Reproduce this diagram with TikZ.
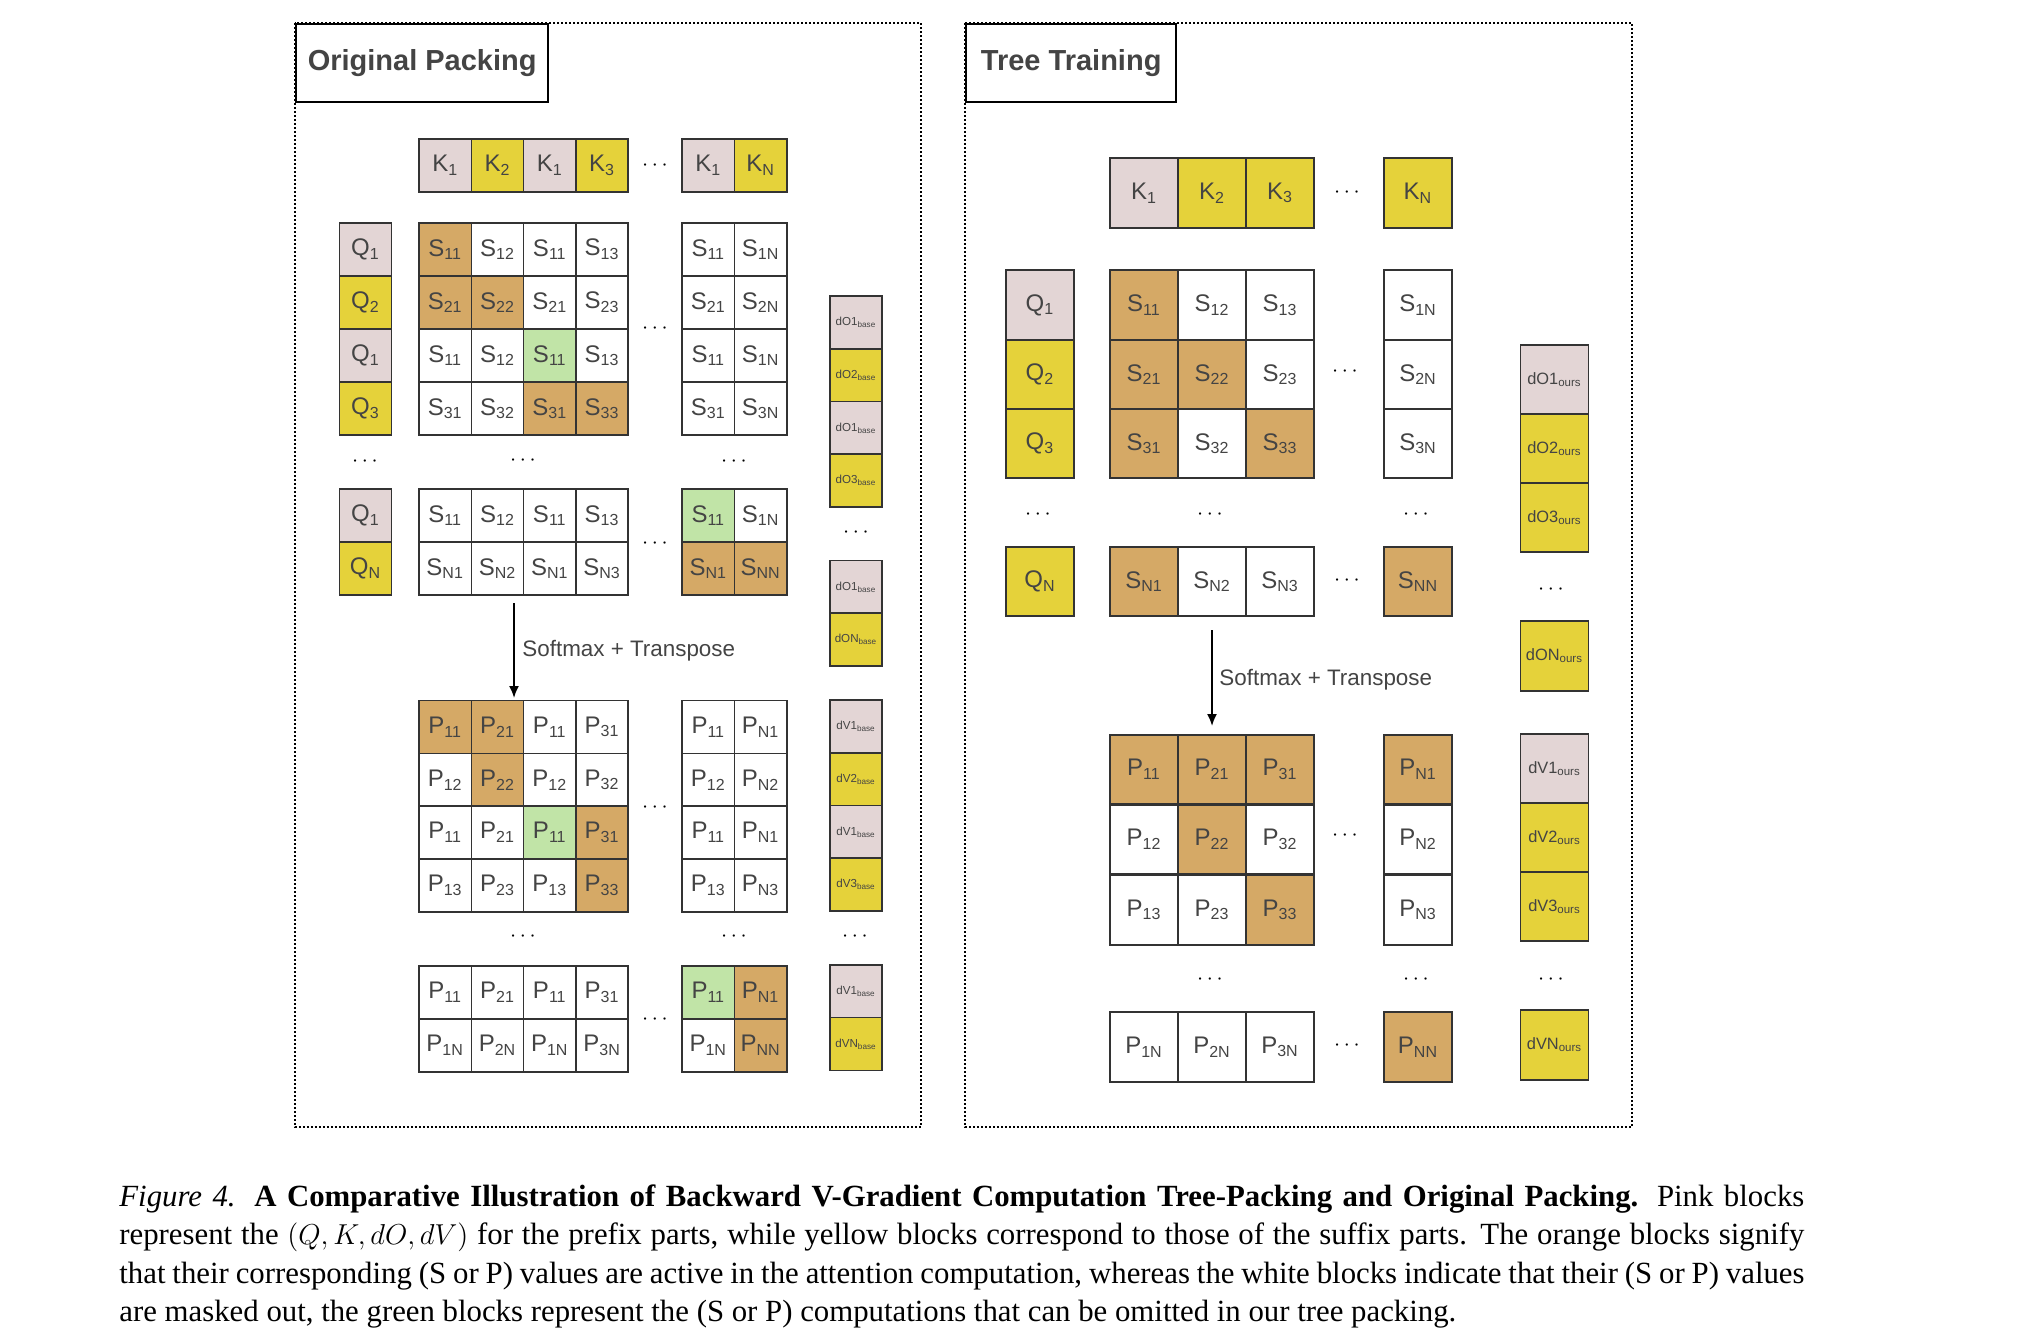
\documentclass[tikz,border=0pt]{standalone}
\usepackage{fontspec}
\setmainfont{Liberation Serif}
\newfontfamily\cellfont{Liberation Sans}
\usetikzlibrary{arrows.meta}

\definecolor{pinkc}{HTML}{E3D5D5}
\definecolor{yelc}{HTML}{E5D23A}
\definecolor{tanc}{HTML}{D5A966}
\definecolor{grnc}{HTML}{C1E4A7}
\definecolor{cellline}{HTML}{333333}
\definecolor{txtgrey}{HTML}{444444}

\newcommand{\subix}[1]{\textsubscript{#1}}

\begin{document}
\begin{tikzpicture}[x=0.5pt,y=-0.5pt,
  cell/.style={draw=cellline,line width=0.8pt,text=txtgrey,inner sep=0pt,
    font=\cellfont\fontsize{12}{14}\selectfont},
  lc/.style={cell,minimum width=26.15pt,minimum height=26.4pt},
  rc/.style={cell,minimum width=34pt,minimum height=34.75pt},
  pk/.style={fill=pinkc}, yl/.style={fill=yelc}, og/.style={fill=tanc},
  gn/.style={fill=grnc}, wt/.style={fill=white},
  ltiny/.style={font=\cellfont\fontsize{5.8}{6}\selectfont},
  rtiny/.style={font=\cellfont\fontsize{8.2}{9}\selectfont},
  dots/.style={inner sep=0pt,text=black,font=\fontsize{11}{11}\selectfont},
  frame/.style={draw=black,line width=0.9pt,dash pattern=on 0.9pt off 1.1pt},
  title/.style={draw=black,line width=1.2pt,fill=white,text=txtgrey,inner sep=0pt,
    font=\cellfont\bfseries\fontsize{14.5}{16}\selectfont},
  lbl/.style={inner sep=0pt,text=txtgrey,font=\cellfont\fontsize{11.2}{13}\selectfont},
  caption/.style={inner sep=0pt,text width=842.5pt,align=justify,
    font=\fontsize{15.4}{19.25}\selectfont}]
\useasboundingbox (0,0) rectangle (2022,1342);
\fill[white] (0,0) rectangle (2022,1342);

%%%%%%%%%%%%%%%% Original Packing %%%%%%%%%%%%%%%%
% frame + title
\draw[frame] (295,23) rectangle (921,1127);
\node[title,anchor=north west,minimum width=126pt,minimum height=39pt] (lTitle) at (295,23) {Original Packing};

\def\lxs{{445.2,497.5,549.8,602.1,708.3,760.6}}
% K row
\foreach \s/\t [count=\i] in {pk/1, yl/2, pk/1, yl/3, pk/1, yl/N}{
	\pgfmathsetmacro\cx{\lxs[\i-1]}
	\node[lc,\s] (lK\i) at (\cx,165.5) {K\subix{\t}};
}
% Q column
\foreach \y/\s/\t [count=\i] in {249.5/pk/1, 302.5/yl/2, 355.5/pk/1, 408.5/yl/3, 515.5/pk/1, 568.5/yl/N}
	\node[lc,\s] (lQ\i) at (365.5,\y) {Q\subix{\t}};
% S blocks
\foreach \y/\row [count=\j] in {
	249.5/{og/11, wt/12, wt/11, wt/13, wt/11, wt/1N},
	302.5/{og/21, og/22, wt/21, wt/23, wt/21, wt/2N},
	355.5/{wt/11, wt/12, gn/11, wt/13, wt/11, wt/1N},
	408.5/{wt/31, wt/32, og/31, og/33, wt/31, wt/3N},
	515.5/{wt/11, wt/12, wt/11, wt/13, gn/11, wt/1N},
	568.5/{wt/N1, wt/N2, wt/N1, wt/N3, og/N1, og/NN}}{
	\foreach \s/\t [count=\i] in \row{
		\pgfmathsetmacro\cx{\lxs[\i-1]}
		\node[lc,\s] (lS\j-\i) at (\cx,\y) {S\subix{\t}};
	}
}
% dO column
\foreach \y/\s/\t [count=\i] in {322.5/pk/1, 375.5/yl/2, 428/pk/1, 480.5/yl/3, 587/pk/1, 639.5/yl/N}
	\node[lc,\s,ltiny] (ldO\i) at (856,\y) {dO\t\subix{base}};
% Softmax + Transpose
\coordinate (lArrA) at (514,603);
\coordinate (lArrB) at (514,698);
\draw[-{Latex[length=6pt,width=5pt]},line width=0.9pt] (lArrA) -- (lArrB);
\node[lbl,anchor=base west] (lSoft) at (522,656) {Softmax + Transpose};
% P blocks
\foreach \y/\row [count=\j] in {
	727/{og/11, og/21, wt/11, wt/31, wt/11, wt/N1},
	780/{wt/12, og/22, wt/12, wt/32, wt/12, wt/N2},
	832.5/{wt/11, wt/21, gn/11, og/31, wt/11, wt/N1},
	885.5/{wt/13, wt/23, wt/13, og/33, wt/13, wt/N3},
	992.5/{wt/11, wt/21, wt/11, wt/31, gn/11, og/N1},
	1045.5/{wt/1N, wt/2N, wt/1N, wt/3N, wt/1N, og/NN}}{
	\foreach \s/\t [count=\i] in \row{
		\pgfmathsetmacro\cx{\lxs[\i-1]}
		\node[lc,\s] (lP\j-\i) at (\cx,\y) {P\subix{\t}};
	}
}
% dV column
\foreach \y/\s/\t [count=\i] in {726.5/pk/1, 779.5/yl/2, 832/pk/1, 884.5/yl/3, 991.5/pk/1, 1044/yl/N}
	\node[lc,\s,ltiny] (ldV\i) at (856,\y) {dV\t\subix{base}};
% dots
\foreach \x/\y [count=\i] in {655/166, 655/329, 365/462, 523/461, 734/462, 655/544, 856/533,
	655/808, 523/937, 734/937, 855/937, 655/1020}
	\node[dots] (lDots\i) at (\x,\y) {$\cdots$};

%%%%%%%%%%%%%%%% Tree Training %%%%%%%%%%%%%%%%
% frame + title
\draw[frame] (965,23) rectangle (1632,1127);
\node[title,anchor=north west,minimum width=105pt,minimum height=39pt] (rTitle) at (965,23) {Tree Training};

\def\rxs{{1144,1212,1280,1418}}
% K row
\foreach \s/\t [count=\i] in {pk/1, yl/2, yl/3, yl/N}{
	\pgfmathsetmacro\cx{\rxs[\i-1]}
	\node[rc,\s] (rK\i) at (\cx,193) {K\subix{\t}};
}
% Q column
\foreach \y/\s/\t [count=\i] in {305/pk/1, 374.5/yl/2, 443.5/yl/3, 581.5/yl/N}
	\node[rc,\s] (rQ\i) at (1040,\y) {Q\subix{\t}};
% S blocks
\foreach \y/\row [count=\j] in {
	305/{og/11, wt/12, wt/13, wt/1N},
	374.5/{og/21, og/22, wt/23, wt/2N},
	443.5/{og/31, wt/32, og/33, wt/3N},
	581.5/{og/N1, wt/N2, wt/N3, og/NN}}{
	\foreach \s/\t [count=\i] in \row{
		\pgfmathsetmacro\cx{\rxs[\i-1]}
		\node[rc,\s] (rS\j-\i) at (\cx,\y) {S\subix{\t}};
	}
}
% dO column
\foreach \y/\s/\t [count=\i] in {379.5/pk/1, 448.5/yl/2, 517.5/yl/3, 656/yl/N}
	\node[rc,\s,rtiny] (rdO\i) at (1554.5,\y) {dO\t\subix{ours}};
% Softmax + Transpose
\coordinate (rArrA) at (1212,630);
\coordinate (rArrB) at (1212,726);
\draw[-{Latex[length=6pt,width=5pt]},line width=0.9pt] (rArrA) -- (rArrB);
\node[lbl,anchor=base west] (rSoft) at (1219,685) {Softmax + Transpose};
% P blocks
\foreach \y/\row [count=\j] in {
	769.5/{og/11, og/21, og/31, og/N1},
	839.5/{wt/12, og/22, wt/32, wt/N2},
	910/{wt/13, wt/23, og/33, wt/N3},
	1047/{wt/1N, wt/2N, wt/3N, og/NN}}{
	\foreach \s/\t [count=\i] in \row{
		\pgfmathsetmacro\cx{\rxs[\i-1]}
		\node[rc,\s] (rP\j-\i) at (\cx,\y) {P\subix{\t}};
	}
}
% dV column
\foreach \y/\s/\t [count=\i] in {768.5/pk/1, 837.5/yl/2, 906.5/yl/3, 1045/yl/N}
	\node[rc,\s,rtiny] (rdV\i) at (1554.5,\y) {dV\t\subix{ours}};
% dots
\foreach \x/\y [count=\i] in {1347/193, 1345/372, 1038/515, 1210/515, 1416/515, 1347/581,
	1551/590, 1345/836, 1210/980, 1416/980, 1551/980, 1347/1046}
	\node[dots] (rDots\i) at (\x,\y) {$\cdots$};

% caption
\node[caption,anchor=base west] (cap) at (119,1206) {\textit{Figure 4.} \textbf{A Comparative Illustration of Backward V-Gradient Computation Tree-Packing and Original Packing.} Pink blocks\linebreak
represent the $(Q, K, dO, dV)$ for the prefix parts, while yellow blocks correspond to those of the suffix parts. The orange blocks signify\linebreak
that their corresponding (S or P) values are active in the attention computation, whereas the white blocks indicate that their (S or P) values\linebreak
are masked out, the green blocks represent the (S or P) computations that can be omitted in our tree packing.};
\end{tikzpicture}
\end{document}
